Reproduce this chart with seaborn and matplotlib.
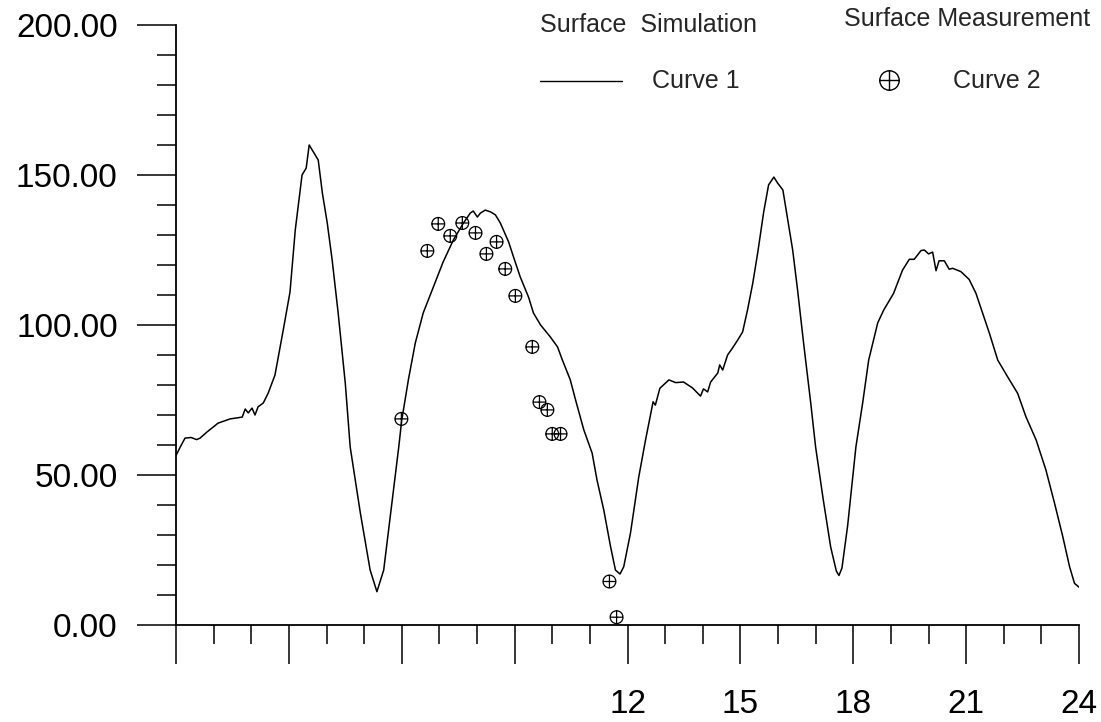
import matplotlib
matplotlib.use("Agg")
import matplotlib.pyplot as plt
import seaborn as sns
import numpy as np
import pandas as pd
from matplotlib.path import Path
from matplotlib.lines import Line2D
from matplotlib.ticker import MultipleLocator, FixedLocator, FixedFormatter, FormatStrFormatter

# Simulated surface curve (hour of day, value)
sim_hours = [
    0.00, 0.12, 0.24, 0.40, 0.55, 0.64, 0.82, 1.12, 1.44, 1.76, 1.84, 1.92, 2.02,
    2.10, 2.18, 2.32, 2.45, 2.63, 2.85, 3.03, 3.17, 3.35, 3.46, 3.54, 3.65, 3.78,
    3.89, 4.02, 4.15, 4.31, 4.50, 4.63, 4.90, 5.16, 5.34, 5.52, 5.74, 5.92, 6.00,
    6.18, 6.36, 6.57, 6.84, 7.10, 7.37, 7.64, 7.82, 7.90, 8.01, 8.09, 8.22, 8.36,
    8.49, 8.62, 8.84, 8.97, 9.15, 9.37, 9.50, 9.69, 9.95, 10.14, 10.27, 10.48,
    10.62, 10.84, 11.06, 11.19, 11.37, 11.55, 11.68, 11.80, 11.90, 12.08, 12.30,
    12.48, 12.68, 12.74, 12.86, 13.10, 13.28, 13.49, 13.73, 13.94, 14.02, 14.13,
    14.21, 14.40, 14.45, 14.53, 14.66, 14.79, 14.93, 15.06, 15.19, 15.33, 15.46,
    15.62, 15.75, 15.89, 15.99, 16.13, 16.26, 16.39, 16.52, 16.68, 16.87, 17.00,
    17.20, 17.40, 17.55, 17.62, 17.70, 17.85, 18.07, 18.25, 18.41, 18.65, 18.81,
    19.07, 19.31, 19.49, 19.62, 19.80, 19.89, 20.00, 20.11, 20.20, 20.28, 20.42,
    20.55, 20.64, 20.86, 21.08, 21.26, 21.44, 21.62, 21.84, 22.10, 22.37, 22.59,
    22.86, 23.12, 23.35, 23.57, 23.75, 23.88, 24.00,
]
sim_values = [
    56.5, 59.5, 62.3, 62.5, 61.8, 62.3, 64.3, 67.3, 68.7, 69.3, 72.0, 70.7, 72.3,
    70.0, 72.7, 74.0, 77.3, 83.3, 98.3, 111.0, 131.7, 150.0, 152.3, 160.0, 157.7, 155.0,
    144.0, 134.0, 121.7, 104.0, 80.5, 59.3, 37.3, 18.3, 11.1, 18.3, 40.7, 59.3, 68.3,
    82.0, 94.0, 104.0, 112.7, 121.0, 128.3, 134.0, 137.3, 138.0, 136.0, 137.3, 138.3, 137.7,
    136.7, 134.0, 127.7, 122.7, 116.0, 109.3, 104.0, 100.0, 96.0, 92.7, 88.3, 81.7,
    75.0, 65.0, 57.3, 48.3, 38.3, 26.1, 18.3, 17.0, 19.4, 30.7, 49.4,
    61.7, 74.4, 73.3, 78.9, 81.7, 80.8, 81.0, 79.0, 76.3, 78.7, 77.7,
    81.0, 84.0, 86.7, 85.0, 90.0, 92.3, 95.0, 97.7, 105.0, 114.0, 124.0,
    137.7, 146.7, 149.3, 147.3, 145.0, 135.0, 125.0, 111.7, 94.0, 74.0, 59.3,
    42.0, 26.0, 18.0, 16.5, 19.0, 33.0, 59.3, 74.0, 88.3, 100.7, 105.0,
    110.5, 118.3, 121.9, 121.9, 124.8, 125.0, 123.7, 124.3, 118.1, 121.4, 121.4,
    118.6, 118.9, 117.8, 115.2, 110.6, 103.9, 97.2, 88.3, 82.8, 77.2, 69.4,
    61.7, 51.7, 40.6, 29.4, 19.4, 13.9, 12.6,
]

# Measured surface points
meas_hours = [5.99, 6.68, 6.97, 7.29, 7.61, 7.96, 8.25, 8.52, 8.75, 9.02,
              9.47, 9.66, 9.87, 10.00, 10.22, 11.52, 11.71]
meas_values = [68.7, 124.7, 133.7, 129.7, 134.0, 130.7, 123.7, 127.7, 118.7, 109.7,
               92.7, 74.3, 71.7, 63.7, 63.7, 14.5, 2.6]

x_major = [0, 3, 6, 9, 12, 15, 18, 21, 24]
x_labels = ["", "", "", "", "12", "15", "18", "21", "24"]
y_major = [0, 50, 100, 150, 200]

title_sim = "Surface  Simulation"
title_meas = "Surface Measurement"
label_sim = "Curve 1"
label_meas = "Curve 2"

sns.set_style("ticks")
plt.rcParams["font.family"] = ["Liberation Sans", "DejaVu Sans"]

# circle with a cross inside
cross_circle = Path.make_compound_path(
    Path.unit_circle(),
    Path([(-1, 0), (1, 0)], [Path.MOVETO, Path.LINETO]),
    Path([(0, -1), (0, 1)], [Path.MOVETO, Path.LINETO]),
)

W, H = 1101, 722
fig = plt.figure(figsize=(W / 100, H / 100), dpi=100)
ax = fig.add_axes([176 / W, (H - 625) / H, 903 / W, 600 / H])

sim_df = pd.DataFrame({"hour": sim_hours, "value": sim_values})
meas_df = pd.DataFrame({"hour": meas_hours, "value": meas_values})

sns.lineplot(data=sim_df, x="hour", y="value", ax=ax, color="black",
             linewidth=1.1, sort=False, estimator=None)
sns.scatterplot(data=meas_df, x="hour", y="value", ax=ax, marker=cross_circle,
                s=85, color="black", edgecolor="black", linewidth=0.9, zorder=3)
for coll in ax.collections:
    coll.set_facecolor("none")

ax.set_xlim(0, 24)
ax.set_ylim(0, 200)
ax.set_xlabel("")
ax.set_ylabel("")

for side in ("top", "right"):
    ax.spines[side].set_visible(False)
for side in ("left", "bottom"):
    ax.spines[side].set_linewidth(1.3)
    ax.spines[side].set_color("black")

ax.xaxis.set_major_locator(FixedLocator(x_major))
ax.xaxis.set_major_formatter(FixedFormatter(x_labels))
ax.xaxis.set_minor_locator(MultipleLocator(1))
ax.yaxis.set_major_locator(FixedLocator(y_major))
ax.yaxis.set_major_formatter(FormatStrFormatter("%.2f"))
ax.yaxis.set_minor_locator(MultipleLocator(10))

ax.tick_params(which="both", bottom=True, left=True, top=False, right=False)
ax.tick_params(which="major", direction="out", length=28, width=1.1, color="black",
               labelsize=24, labelcolor="black")
ax.tick_params(which="minor", direction="out", length=14, width=1.1, color="black")
ax.tick_params(axis="x", which="major", pad=18)
ax.tick_params(axis="y", which="major", pad=14)
ax.grid(False)

# legend block
def fx(px):
    return px / W

def fy(py):
    return 1 - py / H

fig.text(fx(540), fy(25), title_sim, fontsize=18, ha="left", va="center")
fig.text(fx(844), fy(19), title_meas, fontsize=18, ha="left", va="center")
fig.add_artist(Line2D([fx(540), fx(622)], [fy(81), fy(81)], color="black",
                      linewidth=1.0, transform=fig.transFigure))
fig.text(fx(652), fy(81), label_sim, fontsize=18, ha="left", va="center")
fig.add_artist(Line2D([fx(889)], [fy(80)], marker=cross_circle, markersize=14,
                      markerfacecolor="none", markeredgecolor="black",
                      markeredgewidth=1.0, linestyle="none", transform=fig.transFigure))
fig.text(fx(953), fy(81), label_meas, fontsize=18, ha="left", va="center")

fig.savefig("out.png", dpi=100, facecolor="white")
